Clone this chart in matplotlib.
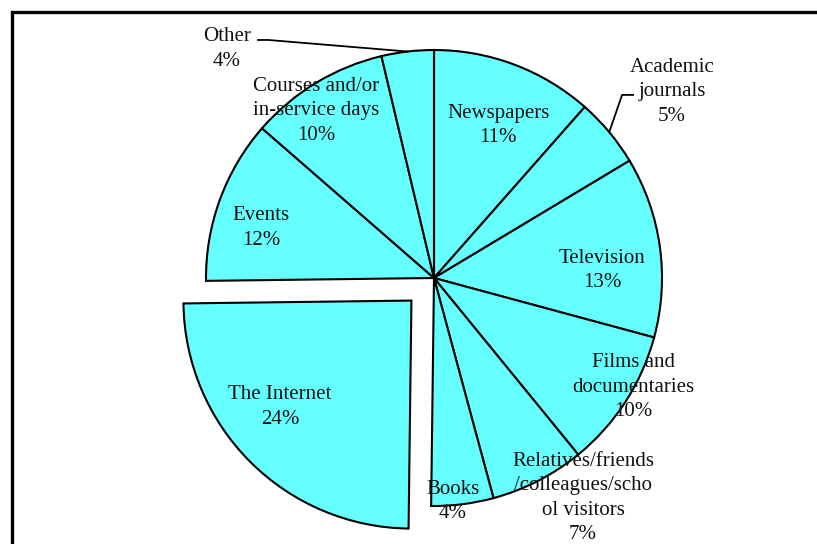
import numpy as np
import matplotlib
matplotlib.use("Agg")
import matplotlib.pyplot as plt
from matplotlib.patches import Rectangle

# ---- data ----
categories = ["Newspapers", "Academic\njournals", "Television", "Films and\ndocumentaries",
              "Relatives/friends\n/colleagues/scho\nol visitors", "Books", "The Internet",
              "Events", "Courses and/or\nin-service days", "Other"]
values = [11.5, 4.9, 12.8, 9.9, 6.7, 4.4, 24.6, 11.6, 9.9, 3.7]
pct_labels = ["11%", "5%", "13%", "10%", "7%", "4%", "24%", "12%", "10%", "4%"]
explode = [0, 0, 0, 0, 0, 0, 0.14, 0, 0, 0]

# label centres (pie-radius units, centre at 0,0)
label_pos = [(0.281, 0.670), (1.044, 0.816), (0.737, 0.032), (0.873, -0.480),
             (0.654, -0.964), (0.083, -0.981), (-0.675, -0.565), (-0.759, 0.220),
             (-0.518, 0.734), (-0.908, 1.005)]

W, H = 817, 544
cx, cy, R = 434, 278, 228

fig = plt.figure(figsize=(W / 100, H / 100), dpi=100)
ax = fig.add_axes([0, 0, 1, 1])

wedges, _ = ax.pie(values, startangle=90, counterclock=False, explode=explode,
                   colors=["#66FFFF"] * len(values),
                   wedgeprops=dict(edgecolor="black", linewidth=1.5),
                   radius=1.0, center=(0, 0), frame=False)

ax.set_xlim(-cx / R, (W - cx) / R)
ax.set_ylim(-(H - cy) / R, cy / R)
ax.set_aspect("equal")
ax.axis("off")

font = dict(family=["Liberation Serif", "DejaVu Serif"], size=15)
for cat, pct, (x, y) in zip(categories, pct_labels, label_pos):
    ax.text(x, y, cat + "\n" + pct, ha="center", va="center",
            linespacing=1.39, color="#111111", **font)

# leader lines for Other and Academic journals
def edge_point(w):
    a = np.deg2rad((w.theta1 + w.theta2) / 2)
    return np.cos(a), np.sin(a)

ex, ey = edge_point(wedges[9])
ax.plot([-0.772, -0.727, ex], [1.044, 1.044, ey], color="black", lw=1.3)
ex, ey = edge_point(wedges[1])
ax.plot([ex, 0.825, 0.873], [ey, 0.803, 0.803], color="black", lw=1.3)

# outer frame (extends past right and bottom)
fig.patches.append(Rectangle((12 / W, -0.1), 1.2, 1 - 12 / H + 0.1,
                             transform=fig.transFigure, fill=False,
                             edgecolor="black", linewidth=2.4))

fig.savefig("out.png", dpi=100, facecolor="white")
